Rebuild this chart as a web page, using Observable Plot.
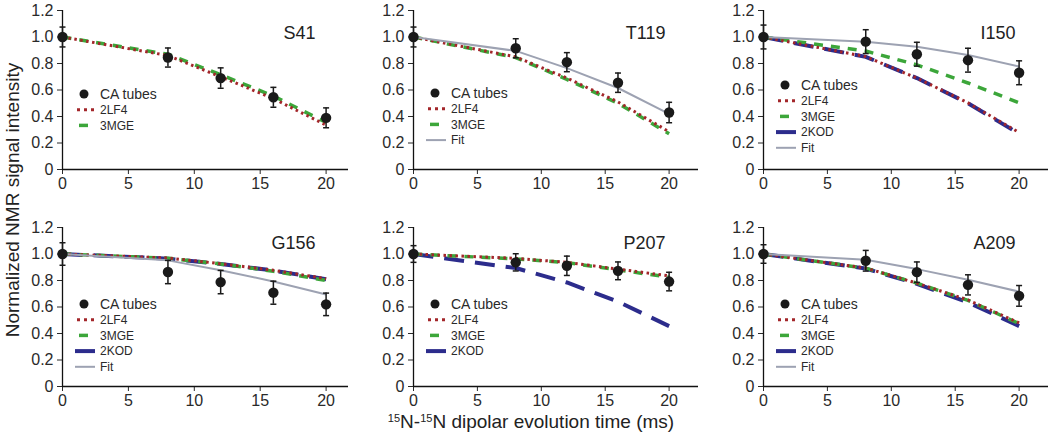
<!DOCTYPE html>
<html><head><meta charset="utf-8">
<script src="https://cdn.jsdelivr.net/npm/d3@7"></script>
<script src="https://cdn.jsdelivr.net/npm/@observablehq/plot@0.6"></script>
<style>
body{margin:0;background:#fff;font-family:"Liberation Sans",Arial,sans-serif;}
#fig{position:relative;width:1050px;height:443px;overflow:hidden;background:#fff}
.panel{position:absolute}
#ytitle{position:absolute;left:-137px;top:188px;width:300px;height:24px;line-height:24px;text-align:center;font-size:19px;color:#222;transform:rotate(-90deg);white-space:nowrap}
#xtitle{position:absolute;left:381px;width:300px;top:410px;height:24px;line-height:24px;text-align:center;font-size:19px;color:#222;white-space:nowrap}
#xtitle sup{font-size:11px;vertical-align:6px;line-height:0}
</style></head><body>
<div id="fig">
<div id="ytitle">Normalized NMR signal intensity</div>
<div id="xtitle"><sup>15</sup>N-<sup>15</sup>N dipolar evolution time (ms)</div>
</div>
<script>
// evolution times (ms)
const times = [0, 8, 12, 16, 20];
const yTicks = [0, 0.2, 0.4, 0.6, 0.8, 1.0, 1.2];
const xTicks = [0, 5, 10, 15, 20];

// S41
const S41_ca   = [1.0, 0.845, 0.69, 0.545, 0.39];
const S41_err  = [0.075, 0.072, 0.077, 0.075, 0.075];
const S41_2LF4 = [1.0, 0.86, 0.70, 0.535, 0.335];
const S41_3MGE = [1.0, 0.87, 0.715, 0.555, 0.355];
// T119
const T119_ca   = [1.0, 0.915, 0.81, 0.655, 0.43];
const T119_err  = [0.075, 0.072, 0.072, 0.073, 0.077];
const T119_2LF4 = [1.0, 0.85, 0.69, 0.51, 0.285];
const T119_3MGE = [1.0, 0.845, 0.68, 0.50, 0.27];
const T119_Fit  = [1.0, 0.895, 0.765, 0.615, 0.42];
// I150
const I150_ca   = [1.0, 0.965, 0.87, 0.825, 0.73];
const I150_err  = [0.09, 0.09, 0.09, 0.09, 0.09];
const I150_2LF4 = [1.0, 0.852, 0.69, 0.503, 0.279];
const I150_3MGE = [1.0, 0.894, 0.79, 0.653, 0.503];
const I150_2KOD = [1.0, 0.85, 0.69, 0.50, 0.27];
const I150_Fit  = [1.0, 0.965, 0.927, 0.864, 0.777];
// G156
const G156_ca   = [1.0, 0.864, 0.788, 0.708, 0.62];
const G156_err  = [0.085, 0.088, 0.088, 0.087, 0.085];
const G156_2LF4 = [1.0, 0.97, 0.927, 0.877, 0.814];
const G156_3MGE = [1.0, 0.968, 0.925, 0.87, 0.80];
const G156_2KOD = [1.0, 0.965, 0.925, 0.875, 0.81];
const G156_Fit  = [1.0, 0.952, 0.877, 0.793, 0.695];
// P207
const P207_ca   = [1.0, 0.937, 0.911, 0.873, 0.792];
const P207_err  = [0.063, 0.065, 0.073, 0.067, 0.07];
const P207_2LF4 = [1.0, 0.967, 0.937, 0.886, 0.835];
const P207_3MGE = [1.0, 0.963, 0.935, 0.88, 0.825];
const P207_2KOD = [1.0, 0.894, 0.785, 0.64, 0.456];
// A209
const A209_ca   = [1.0, 0.949, 0.863, 0.767, 0.684];
const A209_err  = [0.07, 0.078, 0.077, 0.076, 0.078];
const A209_2LF4 = [1.0, 0.894, 0.78, 0.653, 0.48];
const A209_3MGE = [1.0, 0.893, 0.78, 0.65, 0.475];
const A209_2KOD = [1.0, 0.89, 0.775, 0.635, 0.456];
const A209_Fit  = [1.0, 0.957, 0.886, 0.805, 0.716];

const panels = [
  {title: "S41",  ca: S41_ca,  err: S41_err,  series: {"2LF4": S41_2LF4, "3MGE": S41_3MGE}},
  {title: "T119", ca: T119_ca, err: T119_err, series: {"2LF4": T119_2LF4, "3MGE": T119_3MGE, "Fit": T119_Fit}},
  {title: "I150", ca: I150_ca, err: I150_err, series: {"2LF4": I150_2LF4, "3MGE": I150_3MGE, "2KOD": I150_2KOD, "Fit": I150_Fit}},
  {title: "G156", ca: G156_ca, err: G156_err, series: {"2LF4": G156_2LF4, "3MGE": G156_3MGE, "2KOD": G156_2KOD, "Fit": G156_Fit}},
  {title: "P207", ca: P207_ca, err: P207_err, series: {"2LF4": P207_2LF4, "3MGE": P207_3MGE, "2KOD": P207_2KOD}},
  {title: "A209", ca: A209_ca, err: A209_err, series: {"2LF4": A209_2LF4, "3MGE": A209_3MGE, "2KOD": A209_2KOD, "Fit": A209_Fit}}
];

// layout (positions & sizes)
const layout = [
  {left: 0,   top: 0,   ml: 62, xmax: 21.7, height: 200, mt: 10, mb: 31, titleDy: 23, legendDy: 84},
  {left: 350, top: 0,   ml: 63, xmax: 22.3, height: 200, mt: 10, mb: 31, titleDy: 23, legendDy: 83},
  {left: 700, top: 0,   ml: 63, xmax: 22.3, height: 200, mt: 10, mb: 31, titleDy: 23, legendDy: 75},
  {left: 0,   top: 210, ml: 62, xmax: 21.7, height: 233, mt: 17, mb: 57, titleDy: 16, legendDy: 77},
  {left: 350, top: 210, ml: 63, xmax: 22.3, height: 233, mt: 17, mb: 57, titleDy: 16, legendDy: 77},
  {left: 700, top: 210, ml: 63, xmax: 22.3, height: 233, mt: 17, mb: 57, titleDy: 16, legendDy: 77}
];

const styles = {
  "2KOD": {stroke: "#2c2c8c", strokeWidth: 4, strokeDasharray: "20,11"},
  "3MGE": {stroke: "#3ca63a", strokeWidth: 3.5, strokeDasharray: "9,8"},
  "2LF4": {stroke: "#a3262a", strokeWidth: 3, strokeDasharray: "2.5,3.5"},
  "Fit":  {stroke: "#9da2b2", strokeWidth: 2}
};
const drawOrder = ["2KOD", "3MGE", "2LF4", "Fit"];
const legendOrder = ["2LF4", "3MGE", "2KOD", "Fit"];

const capSymbol = {
  draw(ctx, size) {
    const r = Math.sqrt(size / Math.PI);
    ctx.moveTo(-r, 0); ctx.lineTo(r, 0);
  }
};

const fig = document.getElementById("fig");

panels.forEach((p, k) => {
  const L = layout[k];
  const pts = times.map((t, i) => ({t, v: p.ca[i], e: p.err[i]}));
  const lineMarks = drawOrder.filter(s => p.series[s]).map(s =>
    Plot.line(times.map((t, i) => ({t, v: p.series[s][i]})), {x: "t", y: "v", ...styles[s], strokeLinecap: "butt"})
  );
  const svg = Plot.plot({
    width: 350, height: L.height,
    marginLeft: L.ml, marginRight: 2, marginTop: L.mt, marginBottom: L.mb,
    style: {fontFamily: "'Liberation Sans', Arial, sans-serif", fontSize: "16px", color: "#2a2a2a", background: "transparent", overflow: "visible"},
    x: {domain: [0, L.xmax], ticks: xTicks, tickSize: 5, tickPadding: 3, label: null},
    y: {domain: [0, 1.2], ticks: yTicks, tickSize: 5, tickPadding: 4, label: null,
        tickFormat: d => d === 0 ? "0" : d.toFixed(1)},
    marks: [
      Plot.ruleY([0], {stroke: "#111", strokeWidth: 1.3}),
      Plot.ruleX([0], {stroke: "#111", strokeWidth: 1.3}),
      ...lineMarks,
      Plot.ruleX(pts, {x: "t", y1: d => d.v - d.e, y2: d => d.v + d.e, stroke: "#1a1a1a", strokeWidth: 1.5}),
      Plot.dot(pts, {x: "t", y: d => d.v - d.e, symbol: capSymbol, r: 3, stroke: "#1a1a1a", strokeWidth: 1.5}),
      Plot.dot(pts, {x: "t", y: d => d.v + d.e, symbol: capSymbol, r: 3, stroke: "#1a1a1a", strokeWidth: 1.5}),
      Plot.dot(pts, {x: "t", y: "v", r: 5.2, fill: "#1a1a1a", stroke: "none"}),
      Plot.text([p.title], {frameAnchor: "top-right", dx: -33, dy: L.titleDy, fontSize: 18, textAnchor: "end", lineAnchor: "middle", fill: "#222"})
    ]
  });
  const wrap = document.createElement("div");
  wrap.className = "panel";
  wrap.style.left = L.left + "px";
  wrap.style.top = L.top + "px";
  wrap.appendChild(svg);
  fig.appendChild(wrap);

  // legend
  const g = d3.select(svg).append("g")
    .attr("transform", `translate(${L.ml},${L.mt + L.legendDy})`)
    .attr("font-family", "'Liberation Sans', Arial, sans-serif")
    .attr("text-anchor", "start");
  const entries = ["CA tubes", ...legendOrder.filter(s => p.series[s])];
  const step = 15.7;
  entries.forEach((name, i) => {
    const y = i * step;
    if (name === "CA tubes") {
      g.append("circle").attr("cx", 22).attr("cy", y).attr("r", 4.5).attr("fill", "#1a1a1a");
      g.append("text").attr("x", 38).attr("y", y).attr("dy", "0.35em").attr("font-size", 14)
        .attr("text-anchor", "start").attr("fill", "#2a2a2a").text(name);
    } else {
      const st = styles[name];
      let x1 = 13, x2 = 33, dash = st.strokeDasharray || null;
      if (name === "2LF4") { x1 = 15; x2 = 32; dash = "3,4"; }
      if (name === "3MGE") { x1 = 17; x2 = 26; dash = null; }
      if (name === "2KOD") { dash = null; }
      g.append("line").attr("x1", x1).attr("x2", x2).attr("y1", y).attr("y2", y)
        .attr("stroke", st.stroke).attr("stroke-width", st.strokeWidth)
        .attr("stroke-dasharray", dash);
      g.append("text").attr("x", 38).attr("y", y).attr("dy", "0.35em").attr("font-size", 12)
        .attr("text-anchor", "start").attr("fill", "#2a2a2a").text(name);
    }
  });
});
</script>
</body></html>
